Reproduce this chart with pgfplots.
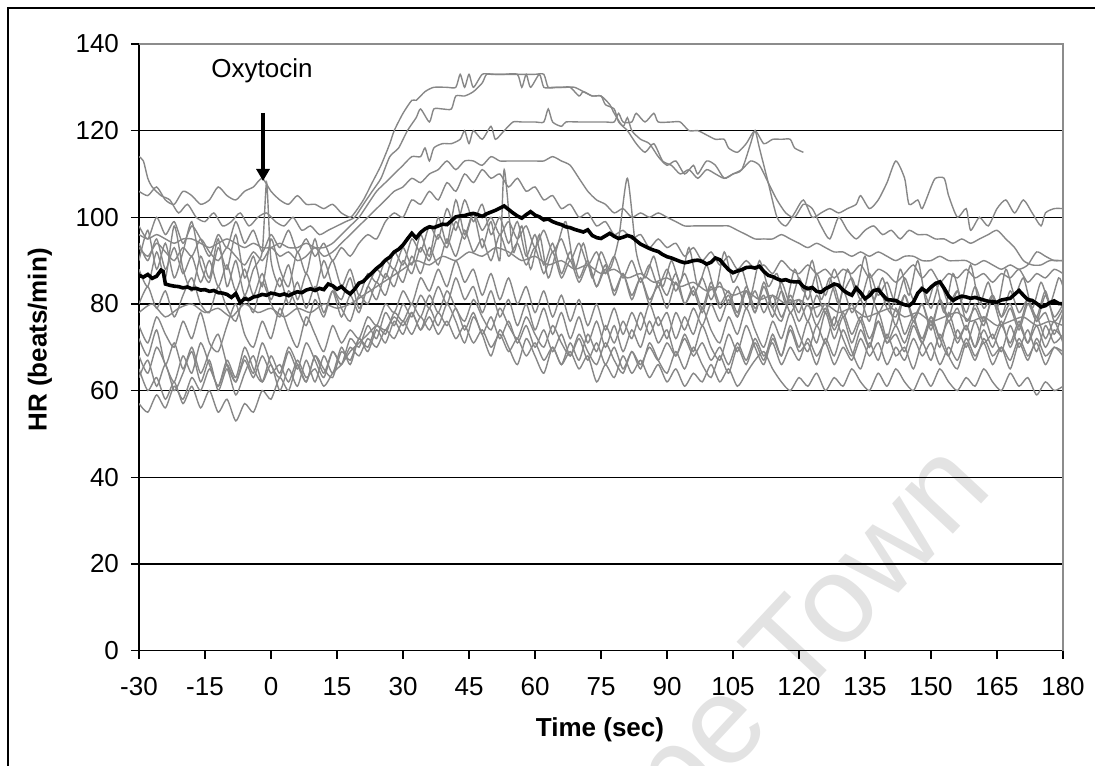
\documentclass[border=0pt]{standalone}
\usepackage{fontspec}
\setmainfont{Liberation Sans}
\usepackage{pgfplots}
\pgfplotsset{compat=1.18}
\usetikzlibrary{arrows.meta}
\definecolor{trace}{RGB}{135,135,135}
\definecolor{border}{RGB}{140,140,140}

\begin{document}
\begin{tikzpicture}
\useasboundingbox (-69.5pt,-57.25pt) rectangle (478pt,325.25pt);
% watermark (behind)
\begin{scope}[shift={(-69.5pt,325.25pt)}, x=0.5pt, y=-0.5pt]
  \node[rotate=47, text=black!11, font=\fontsize{62}{62}\selectfont, anchor=base east, inner sep=0pt] at (995,490) {Cape Town};
\end{scope}

\begin{axis}[
    at={(0,0)}, anchor=south west,
    scale only axis, width=462pt, height=303.25pt,
    xmin=-30, xmax=180, ymin=0, ymax=140,
    xtick={-30,-15,...,180}, ytick={0,20,...,140},
    axis x line*=bottom, axis y line*=left,
    axis line style={black, line width=0.9pt},
    tick align=outside, major tick length=4pt,
    tick style={black, line width=0.7pt},
    ymajorgrids, grid style={black, line width=0.7pt},
    ticklabel style={font=\fontsize{13}{15}\selectfont},
    x tick label style={yshift=-6pt},
    y tick label style={xshift=-2.5pt},
    /pgf/number format/assume math mode=true,
    clip mode=individual,
    trace/.style={color=trace, line width=0.7pt, mark=none, smooth, tension=0.4},
]
% A
\addplot[trace] coordinates {(-30,106)(-28,105)(-26,107)(-24,104)(-22,103)(-20,106)(-18,105)(-16,103)(-14,104)(-12,107)(-10,105)(-8,104)(-6,106)(-4,107)(-2,109)(0,106)(2,104)(4,103)(6,105)(8,103)(10,103)(12,102)(14,103)(16,101)(18,100)(19,101)(21,104)(23,108)(25,112)(27,117)(28,120)(30,124)(32,127)(33,127)(35,129)(37,130)(40,130)(42,130)(43,133)(44,130)(45,133)(46,130)(48,133)(50,133)(53,133)(56,133)(57,130)(58,133)(59,130)(61,133)(62,130)(64,130)(66,130)(68,130)(70,128)(71,129)(73,128)(75,128)(77,126)(78,124)(80,121)(81,123)(82,120)(84,118)(86,117)(88,114)(90,112)(92,113)(94,110)(96,112)(97,110)(99,113)(101,112)(103,109)(105,110)(107,111)(109,117)(110,120)(111,116)(113,108)(115,100)(117,98)(119,101)(121,104)(123,100)(125,101)(127,102)(129,101)(131,102)(133,103)(134,105)(136,102)(138,104)(140,108)(142,113)(144,109)(145,103)(147,104)(148,102)(150,107)(151,109)(153,109)(154,105)(156,100)(158,102)(159,97)(161,100)(163,98)(165,102)(167,104)(169,101)(171,104)(173,101)(175,98)(176,101)(178,102)(180,102)};
% B
\addplot[trace] coordinates {(-30,114)(-29,113)(-28,109)(-27,107)(-25,105)(-23,104)(-21,101)(-19,103)(-17,100)(-15,99)(-13,101)(-11,98)(-9,99)(-7,101)(-5,98)(-3,100)(-1,101)(1,99)(3,98)(5,100)(7,97)(9,98)(11,96)(13,97)(15,98)(17,99)(19,100)(21,103)(23,106)(25,109)(27,114)(29,116)(31,120)(33,123)(34,125)(36,122)(37,125)(39,125)(41,125)(42,128)(44,128)(46,129)(48,131)(49,133)(51,133)(55,133)(57,133)(60,133)(62,133)(63,130)(65,130)(67,130)(69,130)(71,129)(73,128)(75,128)(76,126)(78,125)(79,122)(81,120)(83,117)(85,115)(87,117)(89,113)(91,112)(93,110)(95,111)(97,109)(99,111)(101,110)(103,109)(105,110)(107,111)(109,113)(111,112)(113,108)(115,104)(117,101)(119,100)(121,103)(123,102)(125,98)(127,95)(129,100)(131,97)(133,95)(135,97)(137,98)(139,96)(141,97)(143,95)(145,97)(147,96)(149,96)(151,95)(153,95)(155,94)(157,95)(159,94)(161,95)(163,96)(165,97)(167,95)(169,93)(171,90)(173,89)(175,89)(177,90)(180,90)};
% C (ends at 121 s)
\addplot[trace] coordinates {(-30,96)(-28,95)(-26,96)(-24,95)(-22,94)(-20,95)(-18,95)(-16,94)(-14,93)(-12,94)(-10,95)(-8,94)(-6,93)(-4,94)(-2,93)(0,93)(2,94)(4,93)(6,93)(8,94)(10,93)(12,93)(14,94)(16,96)(18,98)(20,100)(22,103)(24,106)(26,108)(28,110)(30,112)(32,114)(34,114)(35,116)(36,113)(37,116)(39,117)(41,117)(43,118)(44,120)(45,117)(46,120)(48,118)(50,121)(51,118)(53,120)(55,122)(57,122)(60,122)(62,122)(63,125)(64,122)(66,121)(67,122)(70,122)(73,122)(76,122)(78,122)(79,124)(80,122)(82,122)(83,124)(85,122)(87,124)(88,122)(91,122)(93,122)(95,120)(97,120)(99,119)(101,118)(103,118)(104,116)(106,115)(108,117)(110,120)(112,117)(114,118)(116,118)(118,118)(119,116)(121,115)};
% D
\addplot[trace] coordinates {(-30,93)(-28,91)(-26,94)(-24,92)(-22,90)(-20,93)(-18,91)(-16,95)(-14,92)(-12,90)(-10,93)(-8,91)(-6,89)(-4,92)(-2,90)(0,93)(2,91)(4,92)(6,90)(8,91)(10,93)(12,91)(14,92)(16,94)(18,96)(20,98)(22,100)(24,102)(26,104)(28,106)(30,107)(32,109)(34,108)(36,110)(38,111)(40,113)(42,111)(44,113)(46,113)(48,112)(50,114)(52,113)(54,113)(56,113)(58,113)(60,113)(62,113)(64,114)(66,113)(68,112)(70,109)(72,106)(74,104)(76,103)(78,101)(80,102)(82,100)(84,101)(86,100)(88,101)(90,100)(92,99)(94,98)(96,98)(98,98)(100,98)(102,98)(104,98)(106,97)(108,96)(110,95)(112,95)(114,95)(116,96)(118,95)(120,94)(122,93)(124,94)(126,93)(128,92)(130,92)(132,91)(134,92)(136,91)(138,92)(140,91)(142,90)(144,91)(146,91)(148,90)(150,90)(152,91)(154,90)(156,90)(158,90)(160,89)(162,90)(164,89)(166,88)(168,89)(170,88)(172,89)(174,92)(176,91)(178,90)(180,90)};
% E
\addplot[trace] coordinates {(-30,98)(-28,95)(-26,100)(-24,96)(-22,99)(-20,94)(-18,98)(-16,95)(-14,91)(-12,96)(-10,93)(-8,99)(-6,94)(-4,97)(-2,92)(0,96)(2,93)(4,97)(6,92)(8,95)(10,91)(12,94)(14,90)(16,93)(18,91)(20,94)(22,96)(24,95)(26,99)(28,101)(30,100)(32,104)(34,103)(36,106)(38,104)(40,108)(42,106)(44,110)(46,108)(48,111)(50,109)(52,110)(54,107)(56,109)(58,106)(60,107)(62,104)(64,105)(66,102)(68,103)(70,100)(72,101)(74,98)(76,99)(78,96)(80,97)(82,95)(84,96)(86,93)(88,95)(90,93)(92,94)(94,91)(96,93)(98,90)(100,92)(102,89)(104,91)(106,88)(108,90)(110,88)(112,89)(114,87)(116,90)(118,88)(120,87)(122,89)(124,87)(126,88)(128,86)(130,88)(132,87)(134,89)(136,86)(138,88)(140,87)(142,85)(144,87)(146,89)(148,86)(150,88)(152,85)(154,87)(156,86)(158,88)(160,86)(162,87)(164,85)(166,87)(168,86)(170,88)(172,85)(174,87)(176,86)(178,88)(180,87)};
% F
\addplot[trace] coordinates {(-30,90)(-28,97)(-26,88)(-24,94)(-22,86)(-20,92)(-18,99)(-16,89)(-14,85)(-12,93)(-10,88)(-8,96)(-6,86)(-4,91)(-2,84)(0,95)(2,88)(4,84)(6,92)(8,87)(10,95)(12,86)(14,90)(16,84)(18,88)(20,82)(22,87)(24,85)(26,90)(28,88)(30,93)(32,89)(34,96)(36,91)(38,100)(40,94)(42,104)(44,96)(46,101)(48,93)(50,99)(52,90)(53,111)(55,92)(57,98)(59,88)(61,96)(63,86)(65,93)(67,99)(69,88)(71,94)(73,86)(75,92)(77,88)(79,95)(81,109)(83,92)(85,86)(87,91)(89,84)(91,90)(93,85)(95,93)(97,84)(99,89)(101,83)(103,92)(105,85)(107,88)(109,82)(111,90)(113,84)(115,87)(117,80)(119,88)(121,83)(123,90)(125,81)(127,86)(129,80)(131,88)(133,83)(135,91)(137,81)(139,86)(141,79)(143,88)(145,82)(147,90)(149,80)(151,85)(153,78)(155,87)(157,81)(159,89)(161,80)(163,85)(165,79)(167,88)(169,82)(171,86)(173,79)(175,85)(177,80)(179,86)(180,84)};
% G
\addplot[trace] coordinates {(-30,88)(-28,84)(-26,92)(-24,86)(-22,98)(-20,88)(-18,83)(-16,91)(-14,86)(-12,95)(-10,84)(-8,90)(-6,82)(-4,88)(-2,92)(-1,108)(0,90)(2,84)(4,89)(6,81)(8,87)(10,83)(12,90)(14,84)(16,81)(18,86)(20,79)(22,84)(24,88)(26,86)(28,92)(30,89)(32,95)(34,92)(36,98)(38,95)(40,102)(42,97)(44,104)(46,99)(48,103)(50,96)(52,100)(54,94)(56,99)(58,91)(60,96)(62,89)(64,94)(66,87)(68,92)(70,86)(72,90)(74,84)(76,89)(78,82)(80,87)(82,81)(84,86)(86,80)(88,85)(90,82)(92,87)(94,80)(96,84)(98,79)(100,85)(102,80)(104,83)(106,78)(108,84)(110,79)(112,82)(114,77)(116,83)(118,78)(120,81)(122,76)(124,82)(126,78)(128,84)(130,77)(132,80)(134,76)(136,83)(138,78)(140,81)(142,75)(144,82)(146,77)(148,80)(150,75)(152,81)(154,76)(156,79)(158,74)(160,80)(162,76)(164,81)(166,75)(168,79)(170,74)(172,80)(174,76)(176,78)(178,73)(180,78)};
% H
\addplot[trace] coordinates {(-30,94)(-28,90)(-26,95)(-24,88)(-22,93)(-20,87)(-18,91)(-16,85)(-14,90)(-12,84)(-10,89)(-8,83)(-6,88)(-4,82)(-2,87)(0,81)(2,86)(4,80)(6,85)(8,79)(10,84)(12,78)(14,83)(16,77)(18,82)(20,78)(22,84)(24,81)(26,87)(28,84)(30,90)(32,87)(34,93)(36,90)(38,96)(40,93)(42,99)(44,95)(46,101)(48,97)(50,100)(52,96)(54,99)(56,95)(58,98)(60,93)(62,97)(64,92)(66,95)(68,90)(70,94)(72,89)(74,92)(76,87)(78,91)(80,86)(82,90)(84,85)(86,89)(88,84)(90,88)(92,83)(94,87)(96,82)(98,86)(100,81)(102,85)(104,80)(106,84)(108,79)(110,83)(112,78)(114,82)(116,77)(118,81)(120,76)(122,80)(124,75)(126,79)(128,74)(130,78)(132,73)(134,77)(136,72)(138,76)(140,71)(142,75)(144,71)(146,76)(148,72)(150,77)(152,72)(154,76)(156,71)(158,75)(160,70)(162,74)(164,70)(166,75)(168,71)(170,76)(172,71)(174,75)(176,70)(178,74)(180,72)};
% I
\addplot[trace] coordinates {(-30,80)(-28,84)(-26,79)(-24,83)(-22,77)(-20,82)(-18,86)(-16,80)(-14,78)(-12,84)(-10,79)(-8,76)(-6,82)(-4,78)(-2,85)(0,80)(2,77)(4,83)(6,79)(8,75)(10,81)(12,77)(14,83)(16,79)(18,76)(20,82)(22,80)(24,85)(26,82)(28,88)(30,85)(32,91)(34,87)(36,93)(38,89)(40,95)(42,91)(44,97)(46,92)(48,95)(50,90)(52,96)(54,91)(56,94)(58,89)(60,93)(62,87)(64,92)(66,86)(68,90)(70,85)(72,89)(74,84)(76,88)(78,83)(80,87)(82,82)(84,86)(86,81)(88,84)(90,79)(92,85)(94,80)(96,83)(98,78)(100,84)(102,79)(104,82)(106,77)(108,83)(110,78)(112,85)(114,79)(116,76)(118,82)(120,78)(122,84)(124,77)(126,80)(128,75)(130,83)(132,78)(134,81)(136,76)(138,84)(140,79)(142,77)(144,82)(146,76)(148,80)(150,74)(152,81)(154,77)(156,83)(158,76)(160,79)(162,75)(164,82)(166,77)(168,80)(170,75)(172,81)(174,77)(176,83)(178,76)(180,79)};
% J
\addplot[trace] coordinates {(-30,75)(-28,71)(-26,77)(-24,73)(-22,70)(-20,76)(-18,72)(-16,78)(-14,71)(-12,69)(-10,75)(-8,80)(-6,73)(-4,70)(-2,76)(0,72)(2,79)(4,74)(6,70)(8,77)(10,73)(12,69)(14,75)(16,71)(18,74)(20,72)(22,77)(24,75)(26,80)(28,78)(30,83)(32,80)(34,86)(36,83)(38,88)(40,84)(42,90)(44,85)(46,88)(48,82)(50,87)(52,81)(54,86)(56,80)(58,84)(60,78)(62,83)(64,77)(66,82)(68,76)(70,81)(72,75)(74,80)(76,74)(78,79)(80,73)(82,78)(84,74)(86,80)(88,75)(90,78)(92,72)(94,77)(96,73)(98,79)(100,74)(102,71)(104,77)(106,73)(108,79)(110,74)(112,70)(114,76)(116,72)(118,78)(120,73)(122,69)(124,75)(126,71)(128,77)(130,72)(132,68)(134,74)(136,70)(138,76)(140,71)(142,73)(144,69)(146,75)(148,71)(150,77)(152,72)(154,68)(156,74)(158,70)(160,76)(162,71)(164,73)(166,69)(168,75)(170,70)(172,74)(174,69)(176,75)(178,71)(180,73)};
% K
\addplot[trace] coordinates {(-30,72)(-28,68)(-26,74)(-24,66)(-22,71)(-20,65)(-18,70)(-16,64)(-14,69)(-12,73)(-10,66)(-8,62)(-6,68)(-4,64)(-2,71)(0,66)(2,63)(4,69)(6,65)(8,71)(10,67)(12,63)(14,69)(16,66)(18,72)(20,70)(22,75)(24,72)(26,78)(28,75)(30,80)(32,77)(34,82)(36,79)(38,84)(40,80)(42,86)(44,81)(46,84)(48,78)(50,83)(52,77)(54,81)(56,75)(58,80)(60,74)(62,79)(64,73)(66,78)(68,72)(70,77)(72,71)(74,76)(76,70)(78,75)(80,69)(82,74)(84,70)(86,76)(88,71)(90,74)(92,68)(94,73)(96,69)(98,75)(100,70)(102,67)(104,73)(106,69)(108,75)(110,70)(112,66)(114,72)(116,68)(118,74)(120,69)(122,71)(124,66)(126,72)(128,68)(130,74)(132,69)(134,65)(136,71)(138,67)(140,73)(142,68)(144,70)(146,65)(148,71)(150,67)(152,73)(154,68)(156,65)(158,71)(160,67)(162,72)(164,68)(166,70)(168,65)(170,71)(172,67)(174,72)(176,68)(178,70)(180,69)};
% L
\addplot[trace] coordinates {(-30,68)(-28,64)(-26,70)(-24,66)(-22,62)(-20,68)(-18,64)(-16,71)(-14,66)(-12,61)(-10,67)(-8,63)(-6,70)(-4,65)(-2,62)(0,68)(2,64)(4,70)(6,66)(8,62)(10,68)(12,65)(14,63)(16,69)(18,67)(20,72)(22,70)(24,75)(26,73)(28,78)(30,76)(32,80)(34,77)(36,82)(38,78)(40,83)(42,79)(44,76)(46,81)(48,77)(50,74)(52,79)(54,75)(56,72)(58,77)(60,73)(62,70)(64,75)(66,71)(68,68)(70,73)(72,69)(74,66)(76,71)(78,67)(80,64)(82,69)(84,65)(86,71)(88,67)(90,64)(92,69)(94,65)(96,70)(98,66)(100,63)(102,68)(104,64)(106,70)(108,66)(110,71)(112,67)(114,73)(116,68)(118,75)(120,70)(122,76)(124,71)(126,78)(128,72)(130,77)(132,71)(134,76)(136,70)(138,78)(140,72)(142,79)(144,73)(146,77)(148,71)(150,76)(152,70)(154,78)(156,72)(158,75)(160,70)(162,77)(164,72)(166,76)(168,70)(170,75)(172,71)(174,77)(176,72)(178,76)(180,71)};
% M
\addplot[trace] coordinates {(-30,65)(-28,60)(-26,63)(-24,58)(-22,62)(-20,57)(-18,61)(-16,56)(-14,60)(-12,55)(-10,58)(-8,53)(-6,57)(-4,55)(-2,60)(0,58)(2,63)(4,60)(6,66)(8,62)(10,68)(12,64)(14,69)(16,66)(18,70)(20,68)(22,72)(24,70)(26,74)(28,72)(30,76)(32,73)(34,77)(36,74)(38,78)(40,75)(42,79)(44,74)(46,78)(48,73)(50,77)(52,72)(54,76)(56,71)(58,75)(60,70)(62,74)(64,69)(66,73)(68,68)(70,72)(72,67)(74,71)(76,66)(78,70)(80,65)(82,69)(84,66)(86,70)(88,67)(90,71)(92,68)(94,72)(96,68)(98,71)(100,67)(102,70)(104,66)(106,71)(108,67)(110,72)(112,68)(114,71)(116,66)(118,70)(120,67)(122,72)(124,68)(126,71)(128,66)(130,70)(132,67)(134,72)(136,68)(138,71)(140,66)(142,70)(144,67)(146,72)(148,68)(150,71)(152,66)(154,70)(156,67)(158,72)(160,68)(162,71)(164,66)(166,70)(168,67)(170,72)(172,68)(174,71)(176,66)(178,70)(180,68)};
% N
\addplot[trace] coordinates {(-30,57)(-28,55)(-26,59)(-24,56)(-22,61)(-20,58)(-18,63)(-16,60)(-14,65)(-12,61)(-10,66)(-8,62)(-6,67)(-4,63)(-2,68)(0,64)(2,66)(4,62)(6,67)(8,63)(10,65)(12,61)(14,64)(16,66)(18,69)(20,71)(22,73)(24,75)(26,74)(28,77)(30,75)(32,78)(34,74)(36,77)(38,73)(40,76)(42,72)(44,75)(46,71)(48,74)(50,70)(52,73)(54,69)(56,72)(58,68)(60,71)(62,67)(64,70)(66,66)(68,69)(70,65)(72,68)(74,62)(76,66)(78,63)(80,68)(82,64)(84,67)(86,63)(88,66)(90,62)(92,65)(94,61)(96,64)(98,62)(100,66)(102,62)(104,65)(106,61)(108,64)(110,67)(112,69)(114,65)(116,62)(118,60)(120,63)(122,61)(124,64)(126,60)(128,63)(130,61)(132,65)(134,62)(136,60)(138,64)(140,61)(142,65)(144,62)(146,60)(148,64)(150,61)(152,65)(154,62)(156,60)(158,63)(160,61)(162,65)(164,62)(166,60)(168,64)(170,61)(172,63)(174,59)(176,62)(178,60)(180,61)};
% O
\addplot[trace] coordinates {(-30,78)(-27,80)(-24,77)(-21,79)(-18,80)(-15,78)(-12,79)(-9,77)(-6,80)(-3,78)(0,79)(3,77)(6,79)(9,78)(12,80)(15,79)(18,80)(21,82)(24,84)(27,86)(30,88)(33,90)(36,89)(39,91)(42,90)(45,92)(48,91)(51,93)(54,92)(57,90)(60,91)(63,89)(66,90)(69,88)(72,89)(75,87)(78,88)(81,86)(84,87)(87,85)(90,86)(93,84)(96,85)(99,83)(102,84)(105,82)(108,83)(111,81)(114,82)(117,80)(120,81)(123,79)(126,80)(129,78)(132,79)(135,77)(138,78)(141,79)(144,77)(147,78)(150,76)(153,77)(156,78)(159,76)(162,77)(165,75)(168,76)(171,77)(174,75)(177,76)(180,75)};
% P
\addplot[trace] coordinates {(-30,63)(-28,67)(-26,61)(-24,66)(-22,60)(-20,64)(-18,69)(-16,62)(-14,67)(-12,60)(-10,65)(-8,59)(-6,64)(-4,68)(-2,62)(0,66)(2,60)(4,65)(6,61)(8,67)(10,62)(12,68)(14,64)(16,70)(18,66)(20,72)(22,69)(24,74)(26,71)(28,76)(30,73)(32,78)(34,74)(36,79)(38,75)(40,80)(42,76)(44,71)(46,77)(48,73)(50,68)(52,74)(54,70)(56,66)(58,72)(60,68)(62,64)(64,70)(66,66)(68,71)(70,67)(72,73)(74,69)(76,75)(78,71)(80,76)(82,72)(84,78)(86,73)(88,77)(90,72)(92,78)(94,74)(96,79)(98,75)(100,80)(102,76)(104,81)(106,77)(108,83)(110,78)(112,84)(114,79)(116,85)(118,80)(120,86)(122,81)(124,87)(126,82)(128,88)(130,83)(132,86)(134,81)(136,87)(138,82)(140,85)(142,80)(144,86)(146,81)(148,84)(150,79)(152,85)(154,80)(156,83)(158,78)(160,84)(162,79)(164,82)(166,77)(168,83)(170,78)(172,81)(174,76)(176,82)(178,77)(180,80)};
% mean
\addplot[black, line width=1.8pt, mark=none] coordinates {(-30,86.6)(-29,86.2)(-28,86.8)(-27,85.9)(-26,86.4)(-25,87.8)(-24.5,87.5)(-24,84.6)(-23,84.3)(-22,84.1)(-21,84.0)(-20,83.7)(-19,83.9)(-18,83.5)(-17,83.6)(-16,83.2)(-15,83.3)(-14,82.9)(-13,83.1)(-12,82.6)(-11,82.5)(-10,82.2)(-9,81.5)(-8,82.4)(-7,80.3)(-6,81.2)(-5,81.0)(-4,81.6)(-3,81.8)(-2,82.2)(-1,82.0)(0,82.5)(1,82.3)(2,82.0)(3,82.3)(4,81.9)(5,82.4)(6,82.8)(7,82.6)(8,83.2)(9,83.5)(10,83.1)(11,83.6)(12,83.3)(13,84.6)(14,84.2)(15,83.4)(16,84.0)(17,83.0)(18,82.3)(19,83.4)(20,84.8)(21,85.2)(22,86.3)(23,87.2)(24,88.2)(25,89.0)(26,90.1)(27,90.8)(28,92.0)(29,92.6)(30,93.6)(31,95.0)(32,96.3)(33,95.2)(34,96.5)(35,97.3)(36,97.8)(37,97.6)(38,98.0)(39,98.4)(40,98.3)(41,99.2)(42,100.1)(43,100.3)(44,100.4)(45,100.7)(46,100.9)(47,100.6)(48,100.2)(49,100.8)(50,101.2)(51,101.6)(52,102.1)(53,102.6)(54,101.8)(55,101.0)(56,100.3)(57,99.8)(58,100.6)(59,101.3)(60,100.5)(61,100.1)(62,99.4)(63,99.6)(64,99.0)(65,98.6)(66,98.3)(67,97.8)(68,97.6)(69,97.2)(70,96.9)(71,96.6)(72,97.1)(73,95.8)(74,95.3)(75,95.1)(76,95.7)(77,96.3)(78,95.6)(79,95.1)(80,95.4)(81,95.8)(82,95.5)(83,94.6)(84,93.8)(85,93.3)(86,92.8)(87,92.4)(88,92.1)(89,91.4)(90,90.9)(91,90.6)(92,90.2)(93,89.8)(94,89.5)(95,89.7)(96,90.0)(97,90.1)(98,89.8)(99,89.2)(100,89.6)(101,90.6)(102,90.2)(103,89.0)(104,87.9)(105,87.2)(106,87.6)(107,87.9)(108,88.4)(109,88.5)(110,88.3)(111,88.7)(112,87.5)(113,86.6)(114,86.3)(115,85.8)(116,85.4)(117,85.6)(118,85.2)(119,85.1)(120,85.1)(121,84.0)(122,83.5)(123,83.8)(124,82.9)(125,82.7)(126,83.5)(127,84.0)(128,84.6)(129,84.3)(130,83.2)(131,82.5)(132,82.0)(133,83.7)(134,82.6)(135,81.2)(136,81.9)(137,83.1)(138,83.3)(139,82.1)(140,81.0)(141,80.9)(142,80.8)(143,80.2)(144,79.8)(145,79.6)(146,80.4)(147,82.5)(148,83.5)(149,82.8)(150,83.9)(151,84.7)(152,85.1)(153,83.6)(154,81.8)(155,80.8)(156,81.4)(157,81.8)(158,81.6)(159,81.3)(160,81.5)(161,81.2)(162,80.9)(163,80.6)(164,80.5)(165,80.4)(166,80.9)(167,81.1)(168,81.3)(169,82.2)(170,83.1)(171,82.0)(172,81.0)(173,80.8)(174,80.1)(175,79.3)(176,79.6)(177,80.3)(178,80.7)(179,80.1)(180,80.0)};
% plot area border, top and right
\draw[border, line width=1pt] (rel axis cs:0,1) -- (rel axis cs:1,1) -- (rel axis cs:1,0);
\end{axis}

\begin{scope}[shift={(-69.5pt,325.25pt)}, x=0.5pt, y=-0.5pt]
  \draw[black, line width=1.3pt] (8,900) -- (8,8) -- (1200,8);
  \node[font=\fontsize{13}{15}\selectfont] at (262,71) {Oxytocin};
  \draw[line width=2pt, -{Triangle[length=6pt,width=6.5pt]}] (263,113) -- (263,181);
  \node[font=\bfseries\fontsize{13}{15}\selectfont] at (600,730) {Time (sec)};
  \node[rotate=90, font=\bfseries\fontsize{13}{15}\selectfont] at (40,340) {HR (beats/min)};
\end{scope}
\end{tikzpicture}
\end{document}
